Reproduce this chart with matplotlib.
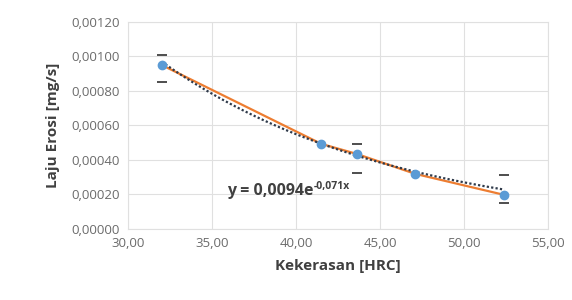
import matplotlib.pyplot as plt
import matplotlib.ticker as mticker
import numpy as np

plt.rcParams['font.family'] = ['Open Sans', 'DejaVu Sans']

# data
kekerasan = [32.0, 41.5, 43.6, 47.1, 52.4]
laju_erosi = [0.00095, 0.000493, 0.000435, 0.000319, 0.000197]
err_atas = [0.00006, 0.0, 0.000055, 0.0, 0.000116]
err_bawah = [0.0001, 0.0, 0.00011, 0.0, 0.000047]
fit_a = 0.0094
fit_b = -0.071

fig = plt.figure(figsize=(5.72, 3.0), dpi=100)
ax = fig.add_axes([0.224, 0.237, 0.734, 0.69])

# garis oranye penghubung titik
ax.plot(kekerasan, laju_erosi, color='#ed7d31', lw=1.6, zorder=2)

# trendline eksponensial
xf = np.linspace(kekerasan[0], kekerasan[-1], 100)
ax.plot(xf, fit_a * np.exp(fit_b * xf), color='#2f3a4a', lw=1.6,
        linestyle=(0, (1, 1)), zorder=3)

# titik data
ax.plot(kekerasan, laju_erosi, 'o', color='#5b9bd5', ms=6, zorder=4)

# error bar (hanya cap yang terlihat)
for x, y, ea, eb in zip(kekerasan, laju_erosi, err_atas, err_bawah):
    if ea > 0:
        ax.plot([x], [y + ea], marker='_', color='#404040', ms=7, mew=1.3)
        ax.plot([x], [y - eb], marker='_', color='#404040', ms=7, mew=1.3)

ax.set_xlim(30, 55)
ax.set_ylim(0, 0.0012)
ax.set_xticks(np.arange(30, 56, 5))
ax.set_yticks(np.arange(0, 0.00121, 0.0002))
ax.xaxis.set_major_formatter(mticker.FuncFormatter(lambda v, p: f'{v:.2f}'.replace('.', ',')))
ax.yaxis.set_major_formatter(mticker.FuncFormatter(lambda v, p: f'{v:.5f}'.replace('.', ',')))
ax.tick_params(length=0, labelsize=9.5, labelcolor='#6b6b6b', pad=6)
ax.grid(True, color='#e0e0e0', lw=0.8)
ax.set_axisbelow(True)
for s in ax.spines.values():
    s.set_color('#e0e0e0')
    s.set_linewidth(0.8)

ax.set_xlabel('Kekerasan [HRC]', fontsize=11, fontweight='bold', color='#404040', labelpad=6)
ax.set_ylabel('Laju Erosi [mg/s]', fontsize=11, fontweight='bold', color='#404040', labelpad=8)

# persamaan trendline
t = ax.text(35.9, 0.000222, 'y = 0,0094e', fontsize=11.5,
            fontweight='bold', color='#404040', va='center')
ax.annotate('-0,071x', xy=(1, 0.75), xycoords=t, fontsize=7.5,
            fontweight='bold', color='#404040', va='center', ha='left')

fig.savefig('out.png', dpi=100)
